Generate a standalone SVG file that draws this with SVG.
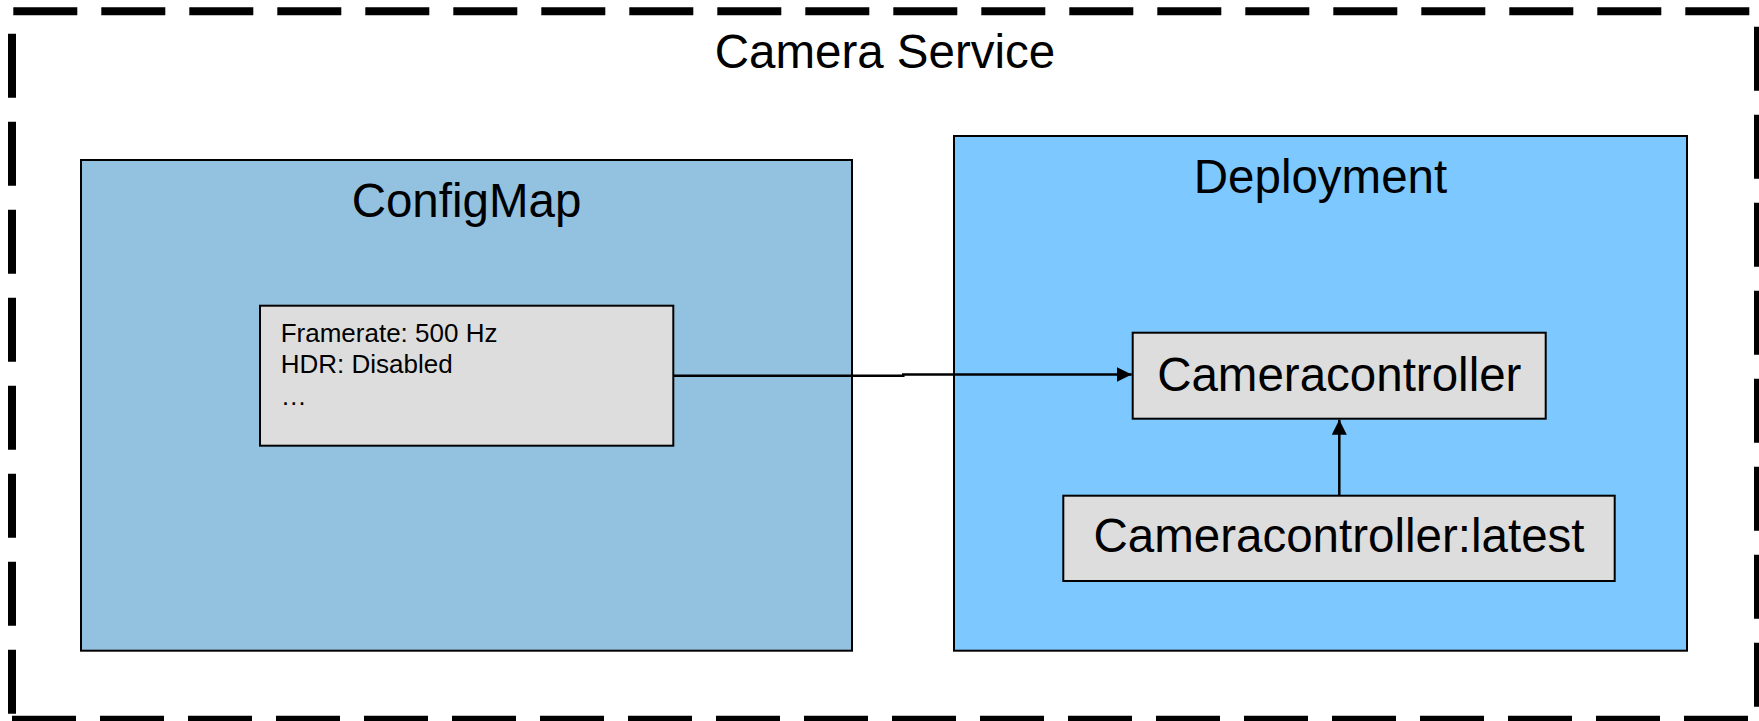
<svg xmlns="http://www.w3.org/2000/svg" width="1759" height="721" viewBox="0 0 1759 721">
  <style>
    .frame { stroke: #000; stroke-width: 8; stroke-dasharray: 64 24; fill: none; }
    .box { stroke: #000; stroke-width: 2; }
    .cfg { fill: #93C2E0; }
    .dep { fill: #7CC8FF; }
    .item { fill: #DDDDDD; }
    .big { font-family: "Liberation Sans", Arial, sans-serif; font-size: 47.5px; fill: #000; text-anchor: middle; }
    .small { font-family: "Liberation Sans", Arial, sans-serif; font-size: 26px; fill: #000; }
    .conn { stroke: #000; stroke-width: 2.5; fill: none; }
  </style>
  <defs>
    <marker id="arrow" markerWidth="15" markerHeight="15" refX="15" refY="7.5" orient="auto" markerUnits="userSpaceOnUse">
      <path d="M0,0 L15,7.5 L0,15 Z" fill="#000"/>
    </marker>
  </defs>

  <rect width="1759" height="721" fill="#fff"/>

  <!-- Camera Service boundary (dashed) -->
  <g id="camera-service">
    <line class="frame" x1="13.3" y1="11.2" x2="1759" y2="11.2"/>
    <line class="frame" x1="12" y1="33.7" x2="12" y2="721"/>
    <line class="frame" x1="12" y1="719.7" x2="1759" y2="719.7"/>
    <line class="frame" x1="1758" y1="26.7" x2="1758" y2="721"/>
    <text class="big" x="885" y="68">Camera Service</text>
  </g>

  <!-- ConfigMap -->
  <g id="configmap">
    <rect class="box cfg" x="81" y="160" width="771" height="490.7"/>
    <text class="big" x="466.5" y="216.7">ConfigMap</text>
  </g>

  <!-- Configuration values -->
  <g id="config-values">
    <rect class="box item" x="260" y="305.7" width="413.3" height="140"/>
    <text class="small" x="280.7" y="341.7">Framerate: 500 Hz</text>
    <text class="small" x="280.7" y="373.3">HDR: Disabled</text>
    <text class="small" x="280.7" y="405">…</text>
  </g>

  <!-- Deployment -->
  <g id="deployment">
    <rect class="box dep" x="954" y="136" width="733" height="514.7"/>
    <text class="big" x="1320.5" y="193.3">Deployment</text>
  </g>

  <!-- Cameracontroller -->
  <g id="cameracontroller">
    <rect class="box item" x="1132.7" y="332.7" width="413" height="86"/>
    <text class="big" x="1339.3" y="391">Cameracontroller</text>
  </g>

  <!-- Cameracontroller:latest image -->
  <g id="cameracontroller-latest">
    <rect class="box item" x="1063.3" y="495.7" width="551.4" height="85.3"/>
    <text class="big" x="1339" y="552">Cameracontroller:latest</text>
  </g>

  <!-- Connectors -->
  <g id="connectors">
    <path class="conn" d="M673.3,375.7 H903.3 V374.5 H1131.7" marker-end="url(#arrow)"/>
    <path class="conn" d="M1339.3,495.7 V419.7" marker-end="url(#arrow)"/>
  </g>
</svg>
